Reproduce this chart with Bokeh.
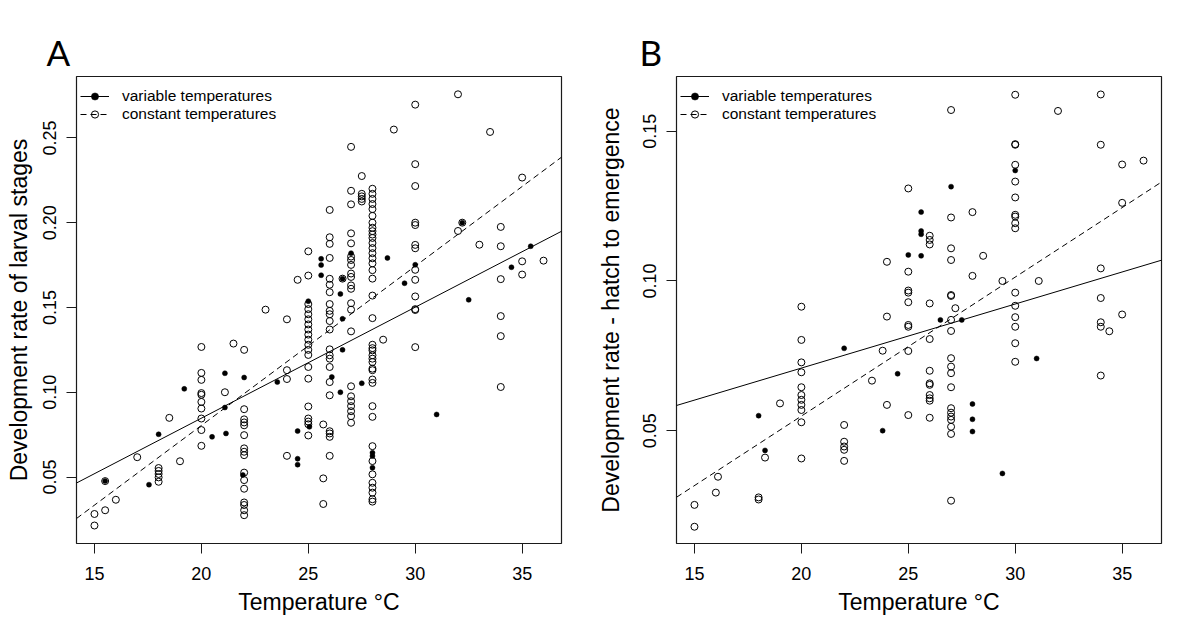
from bokeh.plotting import figure
from bokeh.models import (Legend, LegendItem, FixedTicker,
                          PrintfTickFormatter, Range1d)
from bokeh.layouts import row
from bokeh.embed import file_html
from bokeh.resources import INLINE

# ---------------- data: panel A (larval stages) ----------------
A_var_temp = [15.5, 17.55, 18.0, 19.2, 20.5, 21.1, 21.1, 21.15, 21.94, 22.0,
              23.55, 24.5, 24.5, 24.5, 25.0, 25.05, 25.6, 25.6, 25.6, 26.1,
              26.5, 26.5, 26.6, 26.6, 26.6, 27.0, 27.5, 28.0, 28.0, 28.0,
              28.7, 29.5, 30.0, 31.0, 32.2, 32.5, 34.5, 35.4]
A_var_rate = [0.0476, 0.0455, 0.0752, 0.1020, 0.0737, 0.1112, 0.0910, 0.0757, 0.0512, 0.1087,
              0.1060, 0.0771, 0.0608, 0.0573, 0.1537, 0.0796, 0.1787, 0.1750, 0.1690, 0.1090,
              0.1000, 0.1580, 0.1670, 0.1433, 0.1250, 0.1820, 0.1053, 0.0643, 0.0624, 0.0555,
              0.1792, 0.1643, 0.1752, 0.0869, 0.2000, 0.1545, 0.1737, 0.1861]

A_const_temp = [
    15, 15,
    15.5, 15.5,
    16,
    17,
    18, 18, 18, 18, 18,
    18.5,
    19,
    20, 20, 20, 20, 20, 20, 20, 20, 20, 20,
    21.1,
    21.5,
    22, 22, 22, 22, 22, 22, 22, 22, 22, 22, 22, 22, 22, 22, 22, 22,
    23,
    24, 24, 24, 24,
    24.5,
    25, 25, 25, 25, 25, 25, 25, 25, 25, 25, 25, 25, 25, 25, 25, 25, 25, 25, 25, 25,
    25.7, 25.7, 25.7,
    26, 26, 26, 26, 26, 26, 26, 26, 26, 26, 26, 26, 26, 26, 26, 26, 26, 26, 26, 26, 26, 26,
    26.6,
    27, 27, 27, 27, 27, 27, 27, 27, 27, 27, 27, 27, 27, 27, 27, 27, 27, 27, 27, 27, 27, 27,
    27.5, 27.5, 27.5, 27.5, 27.5,
    28, 28, 28, 28, 28, 28, 28, 28, 28, 28, 28, 28, 28, 28, 28, 28, 28, 28, 28, 28,
    28, 28, 28, 28, 28, 28, 28, 28, 28, 28, 28, 28, 28, 28, 28, 28, 28, 28, 28, 28,
    28.5,
    29,
    30, 30, 30, 30, 30, 30, 30, 30, 30, 30, 30, 30, 30,
    32, 32,
    32.2,
    33,
    33.5,
    34, 34, 34, 34, 34, 34,
    35, 35, 35,
    36,
]
A_const_rate = [
    0.0282, 0.0214,
    0.0476, 0.0304,
    0.0366,
    0.0617,
    0.0553, 0.0536, 0.0518, 0.0498, 0.0472,
    0.0849,
    0.0593,
    0.1267, 0.1114, 0.1073, 0.0995, 0.0985, 0.0943, 0.0904, 0.0845, 0.0777, 0.0684,
    0.1000,
    0.1287,
    0.1250, 0.0900, 0.0840, 0.0822, 0.0805, 0.0747, 0.0669, 0.0649, 0.0629, 0.0526,
    0.0482, 0.0431, 0.0350, 0.0335, 0.0304, 0.0275,
    0.1487,
    0.1430, 0.1130, 0.1078, 0.0625,
    0.1663,
    0.1831, 0.1688, 0.1520, 0.1490, 0.1460, 0.1430, 0.1400, 0.1370, 0.1340, 0.1310,
    0.1280, 0.1250, 0.1220, 0.1149, 0.1080, 0.0916, 0.0845, 0.0827, 0.0811, 0.0745,
    0.0810, 0.0492, 0.0341,
    0.2075, 0.1914, 0.1875, 0.1792, 0.1669, 0.1634, 0.1590, 0.1520, 0.1480, 0.1460, 0.1420,
    0.1370, 0.1253, 0.1218, 0.1198, 0.1149, 0.1060, 0.0982, 0.0770, 0.0757, 0.0737, 0.0625,
    0.1670,
    0.2447, 0.2188, 0.2108, 0.1937, 0.1878, 0.1800, 0.1780, 0.1751, 0.1700, 0.1680, 0.1630,
    0.1610, 0.1525, 0.1487, 0.1359, 0.1035, 0.0976, 0.0947, 0.0918, 0.0888, 0.0859, 0.0820,
    0.2275, 0.2170, 0.2155, 0.2140, 0.2125,
    0.2200, 0.2170, 0.2140, 0.2110, 0.2080, 0.2040, 0.2000, 0.1970, 0.1950, 0.1930,
    0.1910, 0.1880, 0.1850, 0.1820, 0.1790, 0.1760, 0.1720, 0.1670, 0.1570, 0.1437,
    0.1280, 0.1260, 0.1247, 0.1218, 0.1198, 0.1178, 0.1139, 0.1130, 0.1075, 0.1055,
    0.0918, 0.0855, 0.0682, 0.0594, 0.0516, 0.0466, 0.0437, 0.0408, 0.0369, 0.0355,
    0.1310,
    0.2549,
    0.2696, 0.2345, 0.2216, 0.2000, 0.1986, 0.1869, 0.1849, 0.1722, 0.1663, 0.1565,
    0.1490, 0.1485, 0.1266,
    0.2757, 0.1951,
    0.2000,
    0.1870,
    0.2535,
    0.1975, 0.1861, 0.1667, 0.1449, 0.1331, 0.1031,
    0.2266, 0.1772, 0.1694,
    0.1776,
]

# regression lines (gradient, intercept)
A_var_line = [0.006545, -0.0462]
A_const_line = [0.009395, -0.1075]

# ---------------- data: panel B (hatch to emergence) ----------------
B_var_temp = [18.0, 18.3, 22.0, 23.8, 24.5, 25.0, 25.6, 25.6, 25.6, 25.6,
              26.5, 27.0, 27.5, 28.0, 28.0, 28.0, 29.4, 30.0, 31.0]
B_var_rate = [0.0550, 0.0434, 0.0775, 0.0500, 0.0690, 0.1087, 0.1230, 0.1167, 0.1156, 0.1084,
              0.0870, 0.1315, 0.0870, 0.0589, 0.0538, 0.0497, 0.0357, 0.1369, 0.0741]

B_const_temp = [
    15, 15,
    16.1, 16.0,
    18, 18,
    18.3,
    19,
    20, 20, 20, 20, 20, 20, 20, 20, 20, 20, 20,
    22, 22, 22, 22, 22,
    23.3,
    23.8,
    24, 24, 24,
    25, 25, 25, 25, 25, 25, 25, 25, 25,
    26, 26, 26, 26, 26, 26, 26, 26, 26, 26, 26, 26,
    27, 27, 27, 27, 27, 27, 27, 27, 27, 27, 27, 27, 27, 27, 27, 27, 27, 27, 27,
    27.2,
    28, 28,
    28.5,
    29.4,
    30, 30, 30, 30, 30, 30, 30, 30, 30, 30, 30, 30, 30, 30, 30, 30,
    31.1,
    32,
    34, 34, 34, 34, 34, 34, 34,
    34.4,
    35, 35, 35,
    36,
]
B_const_rate = [
    0.0252, 0.0179,
    0.0346, 0.0293,
    0.0277, 0.0270,
    0.0410,
    0.0591,
    0.0914, 0.0803, 0.0728, 0.0695, 0.0645, 0.0619, 0.0603, 0.0586, 0.0569, 0.0528, 0.0407,
    0.0519, 0.0463, 0.0447, 0.0436, 0.0399,
    0.0667,
    0.0767,
    0.1064, 0.0881, 0.0586,
    0.1309, 0.1031, 0.0968, 0.0961, 0.0929, 0.0853, 0.0847, 0.0766, 0.0552,
    0.1151, 0.1137, 0.1122, 0.0925, 0.0806, 0.0700, 0.0658, 0.0653, 0.0619, 0.0608, 0.0600, 0.0543,
    0.1571, 0.1212, 0.1109, 0.1070, 0.0953, 0.0950, 0.0870, 0.0833, 0.0742, 0.0714,
    0.0692, 0.0645, 0.0575, 0.0560, 0.0547, 0.0536, 0.0513, 0.0489, 0.0266,
    0.0909,
    0.1230, 0.1017,
    0.1084,
    0.1000,
    0.1622, 0.1457, 0.1455, 0.1388, 0.1332, 0.1279, 0.1221, 0.1215, 0.1193, 0.1176,
    0.0961, 0.0917, 0.0879, 0.0847, 0.0792, 0.0730,
    0.1000,
    0.1568,
    0.1623, 0.1455, 0.1042, 0.0943, 0.0862, 0.0847, 0.0684,
    0.0832,
    0.1389, 0.1261, 0.0888,
    0.1402,
]

B_var_line = [0.00214, 0.0281]
B_const_line = [0.004643, -0.0380]

# axes
x_ticks = [15, 20, 25, 30, 35]
A_y_ticks = [0.05, 0.10, 0.15, 0.20, 0.25]
B_y_ticks = [0.05, 0.10, 0.15]
x_limits = [14.16, 36.84]
A_y_limits = [0.0108, 0.2862]
B_y_limits = [0.0123, 0.1683]

legend_labels = ["variable temperatures", "constant temperatures"]
x_title = "Temperature °C"
A_y_title = "Development rate of larval stages"
B_y_title = "Development rate - hatch to emergence"

assert len(A_const_temp) == len(A_const_rate)
assert len(B_const_temp) == len(B_const_rate)
assert len(A_var_temp) == len(A_var_rate)
assert len(B_var_temp) == len(B_var_rate)

FONT = "Liberation Sans"


def make_panel(letter, letter_dx, ytitle, var_t, var_r, con_t, con_r, var_line, con_line,
               yticks, ylim, left_border, right_border, ylabel_standoff):
    p = figure(output_backend="svg", toolbar_location=None,
               frame_width=485, frame_height=467,
               min_border_left=left_border, min_border_right=right_border,
               min_border_top=76, min_border_bottom=79,
               x_range=Range1d(*x_limits), y_range=Range1d(*ylim))
    p.grid.visible = False
    p.outline_line_color = "#1a1a1a"
    p.outline_line_width = 1.2
    p.outline_line_alpha = 1
    p.background_fill_color = "white"
    p.border_fill_color = "white"

    p.title.text = letter
    p.title.text_font = "Lato"
    p.title.text_font_size = "35px"
    p.title.text_font_style = "normal"
    p.title.text_color = "black"
    p.title.align = "left"
    p.title.offset = letter_dx
    p.title.standoff = 7

    xa = p.xaxis[0]
    ya = p.yaxis[0]
    xa.ticker = FixedTicker(ticks=x_ticks)
    ya.ticker = FixedTicker(ticks=yticks)
    xa.formatter = PrintfTickFormatter(format="%d")
    ya.formatter = PrintfTickFormatter(format="%.2f")
    ya.major_label_orientation = "vertical"
    for ax in (xa, ya):
        ax.axis_line_color = None
        ax.major_tick_out = 10
        ax.major_tick_in = 0
        ax.minor_tick_out = 0
        ax.minor_tick_in = 0
        ax.major_tick_line_color = "#1a1a1a"
        ax.major_tick_line_width = 1
        ax.major_label_text_font = FONT
        ax.major_label_text_font_size = "18px"
        ax.major_label_text_color = "black"
        ax.axis_label_text_font = FONT
        ax.axis_label_text_font_size = "23px"
        ax.axis_label_text_font_style = "normal"
        ax.axis_label_text_color = "black"
    xa.axis_label = x_title
    ya.axis_label = ytitle
    xa.major_label_standoff = 13
    xa.axis_label_standoff = 6
    ya.major_label_standoff = 10
    ya.axis_label_standoff = ylabel_standoff

    # regression lines, drawn across the x range from gradient and intercept
    var_y = [var_line[0] * x + var_line[1] for x in x_limits]
    con_y = [con_line[0] * x + con_line[1] for x in x_limits]
    ln_var = p.line(x_limits, var_y, line_color="black", line_width=1)
    ln_con = p.line(x_limits, con_y, line_color="black", line_width=1, line_dash="6 4")

    sc_con = p.scatter(con_t, con_r, marker="circle", size=7, fill_color=None,
                       line_color="black", line_width=1)
    sc_var = p.scatter(var_t, var_r, marker="circle", size=5, fill_color="black",
                       line_color="black", line_width=0.5)

    legend = Legend(items=[LegendItem(label=legend_labels[0], renderers=[ln_var, sc_var]),
                           LegendItem(label=legend_labels[1], renderers=[ln_con, sc_con])],
                    location=(4, 420), margin=0, padding=0, spacing=0,
                    glyph_width=29, glyph_height=18, label_height=18,
                    label_standoff=13, border_line_color=None,
                    background_fill_alpha=0,
                    label_text_font=FONT, label_text_font_size="15.5px",
                    label_text_color="black")
    p.add_layout(legend)
    return p


pA = make_panel("A", -30, A_y_title, A_var_temp, A_var_rate, A_const_temp, A_const_rate,
                A_var_line, A_const_line, A_y_ticks, A_y_limits, 76, 31, 9)
pB = make_panel("B", -37, B_y_title, B_var_temp, B_var_rate, B_const_temp, B_const_rate,
                B_var_line, B_const_line, B_y_ticks, B_y_limits, 84, 39, 17)

layout = row(pA, pB)
open("out.html", "w").write(file_html(layout, INLINE))
